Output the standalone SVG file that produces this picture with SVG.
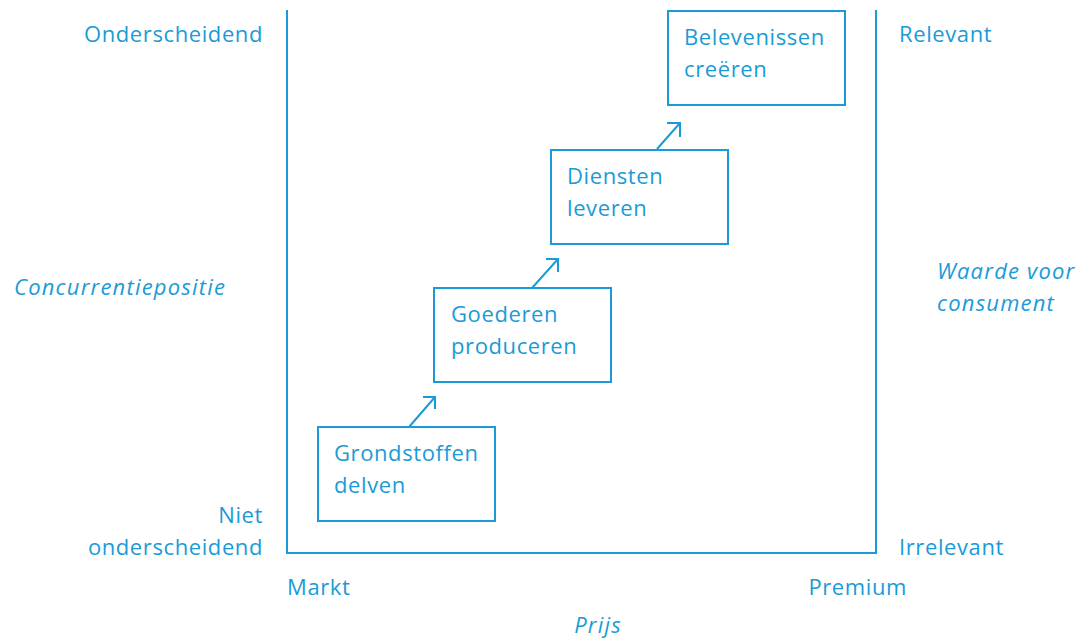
<svg xmlns="http://www.w3.org/2000/svg" width="1078" height="639" viewBox="0 0 1078 639">
<defs>
<style>
text{font-family:"Open Sans","Liberation Sans",sans-serif;font-size:22px;letter-spacing:0.6px;fill:#1a9bd7}
.it{font-style:italic;letter-spacing:1.2px}
.box{fill:none;stroke:#1a9bd7;stroke-width:2}
.ln{fill:none;stroke:#1a9bd7;stroke-width:2}
</style>
</defs>
<rect width="1078" height="639" fill="#fff"/>
<g id="frame">
<polyline class="ln" points="287,10 287,553 876,553 876,10"/>
</g>
<g id="axis-labels">
<text x="263" y="42" text-anchor="end">Onderscheidend</text>
<text x="263" y="523" text-anchor="end">Niet</text>
<text x="263" y="555" text-anchor="end">onderscheidend</text>
<text class="it" x="14" y="295">Concurrentiepositie</text>
<text x="899" y="42">Relevant</text>
<text x="899" y="555">Irrelevant</text>
<text class="it" x="937" y="279">Waarde voor</text>
<text class="it" x="937" y="311">consument</text>
<text x="287" y="595">Markt</text>
<text x="907" y="595" text-anchor="end">Premium</text>
<text class="it" x="598" y="633" text-anchor="middle">Prijs</text>
</g>
<g id="node-grondstoffen">
<rect class="box" x="318" y="427" width="177" height="94"/>
<text x="334" y="461">Grondstoffen</text>
<text x="334" y="493">delven</text>
</g>
<g id="node-goederen">
<rect class="box" x="434" y="288" width="177" height="94"/>
<text x="451" y="322">Goederen</text>
<text x="451" y="354">produceren</text>
</g>
<g id="node-diensten">
<rect class="box" x="551" y="150" width="177" height="94"/>
<text x="567" y="184">Diensten</text>
<text x="567" y="216">leveren</text>
</g>
<g id="node-belevenissen">
<rect class="box" x="668" y="11" width="177" height="94"/>
<text x="684" y="45">Belevenissen</text>
<text x="684" y="77">creëren</text>
</g>
<g id="connectors">
<path class="ln" d="M409,427 L435,397 M423,397 L435,397 L435,409"/>
<path class="ln" d="M532,288 L558,259 M546,259 L558,259 L558,272"/>
<path class="ln" d="M657,149 L680,123 M667,123 L680,123 L680,137"/>
</g>
</svg>
